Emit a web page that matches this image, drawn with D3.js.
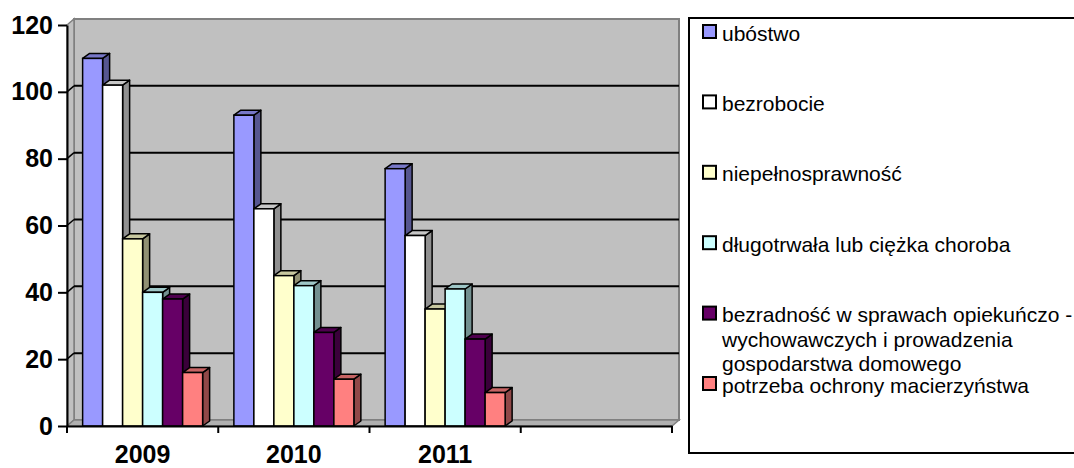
<!DOCTYPE html>
<html><head><meta charset="utf-8">
<script src="https://cdn.jsdelivr.net/npm/d3@7.9.0/dist/d3.min.js"></script>
<style>body{margin:0;background:#fff}svg{display:block;font-family:"Liberation Sans",Arial,sans-serif}</style>
</head><body><svg width="1074" height="468"></svg>
<script>
// data
const years=['2009','2010','2011',''];
const series=['ubóstwo','bezrobocie','niepełnosprawność','długotrwała lub ciężka choroba','bezradność w sprawach opiekuńczo - wychowawczych i prowadzenia gospodarstwa domowego','potrzeba ochrony macierzyństwa'];
const legendLines=[['ubóstwo'],['bezrobocie'],['niepełnosprawność'],['długotrwała lub ciężka choroba'],['bezradność w sprawach opiekuńczo -','wychowawczych i prowadzenia','gospodarstwa domowego'],['potrzeba ochrony macierzyństwa']];
const colors=['#9999ff','#ffffff','#ffffcc','#ccffff','#660066','#ff8080'];
const v2009=[110,102,56,40,38,16];
const v2010=[93,65,45,42,28,14];
const v2011=[77,57,35,41,26,10];
const yTicks=[0,20,40,60,80,100,120];

const svg=d3.select('svg');
const dx=7,dy=-6,bdx=7,bdy=-5,bw=20;
const x0=d3.scaleBand().domain(years).range([67,672]);
const x1=d3.scaleBand().domain(d3.range(series.length)).range([0,bw*series.length]);
const y=d3.scaleLinear().domain([0,120]).range([426,25]);
const off=(x0.bandwidth()-x1.range()[1])/2;
const L=x0.range()[0],R=x0.range()[1],B=y(0),T=y(120);

// walls
svg.append('rect').attr('x',L+dx).attr('y',T+dy).attr('width',R-L).attr('height',B-T)
 .attr('fill','#c0c0c0').attr('stroke','#808080').attr('stroke-width',2);
svg.append('polygon').attr('points',[[L,B],[L+dx,B+dy],[L+dx,T+dy],[L,T]].join(' '))
 .attr('fill','#c0c0c0').attr('stroke','#808080').attr('stroke-width',1.5);
svg.append('polygon').attr('points',[[L,B],[L+dx,B+dy],[R+dx,B+dy],[R,B]].join(' '))
 .attr('fill','#b0b0b0').attr('stroke','#808080').attr('stroke-width',1.5);
const grid=yTicks.filter(t=>t>0&&t<120);
svg.selectAll('.gl').data(grid).enter().append('line').attr('class','gl')
 .attr('x1',L+dx).attr('x2',R+dx).attr('y1',d=>y(d)+dy).attr('y2',d=>y(d)+dy)
 .attr('stroke','#000').attr('stroke-width',2);
svg.selectAll('.gd').data(grid).enter().append('line').attr('class','gd')
 .attr('x1',L).attr('x2',L+dx).attr('y1',d=>y(d)).attr('y2',d=>y(d)+dy)
 .attr('stroke','#000').attr('stroke-width',1.5);

// bars
const table=[v2009,v2010,v2011];
table.forEach((vals,gi)=>{
 const g=svg.append('g').attr('transform',`translate(${x0(years[gi])+off},0)`);
 vals.forEach((v,i)=>{
  const x=x1(i),w=x1.bandwidth(),yt=y(v),c=d3.color(colors[i]);
  g.append('polygon').attr('points',[[x+w,yt],[x+w+bdx,yt+bdy],[x+w+bdx,B+bdy],[x+w,B]].join(' '))
   .attr('fill',c.darker(1.6)).attr('stroke','#000').attr('stroke-width',1.5).attr('stroke-linejoin','round');
  g.append('polygon').attr('points',[[x,yt],[x+bdx,yt+bdy],[x+w+bdx,yt+bdy],[x+w,yt]].join(' '))
   .attr('fill',c.darker(0.7)).attr('stroke','#000').attr('stroke-width',1.5).attr('stroke-linejoin','round');
  g.append('rect').attr('x',x).attr('y',yt).attr('width',w).attr('height',B-yt)
   .attr('fill',colors[i]).attr('stroke','#000').attr('stroke-width',1.5);
 });
});

// axes
const ya=svg.append('g').attr('transform',`translate(${L},0)`)
 .call(d3.axisLeft(y).tickValues(yTicks).tickSize(9).tickPadding(5).tickSizeOuter(0));
ya.select('.domain').attr('stroke-width',2);
ya.selectAll('line').attr('stroke-width',2);
ya.selectAll('text').attr('font-size',25).attr('font-weight','bold').attr('font-family','Liberation Sans, Arial').attr('fill','#000');

const xa=svg.append('g').attr('transform',`translate(0,${B})`)
 .call(d3.axisBottom(x0).tickSize(0).tickPadding(19));
xa.select('.domain').attr('stroke-width',2);
xa.selectAll('text').attr('font-size',25).attr('font-weight','bold').attr('font-family','Liberation Sans, Arial').attr('fill','#000');
svg.selectAll('.xt').data(d3.range(years.length+1)).enter().append('line').attr('class','xt')
 .attr('x1',d=>L+d*x0.step()).attr('x2',d=>L+d*x0.step()).attr('y1',B).attr('y2',B+7)
 .attr('stroke','#000').attr('stroke-width',2);

// legend
svg.append('rect').attr('x',689).attr('y',18).attr('width',420).attr('height',435)
 .attr('fill','#fff').attr('stroke','#000').attr('stroke-width',2);
const lg=svg.selectAll('.li').data(legendLines).enter().append('g').attr('class','li')
 .attr('transform',(d,i)=>`translate(703,${25+i*70.4})`);
lg.append('rect').attr('width',13).attr('height',13).attr('fill',(d,i)=>colors[i]).attr('stroke','#000').attr('stroke-width',2);
lg.append('text').attr('x',19).attr('y',15.5).attr('font-size',21).attr('fill','#000')
 .selectAll('tspan').data(d=>d).enter().append('tspan').attr('x',19).attr('dy',(d,i)=>i?24.5:0).text(d=>d);
</script></body></html>
